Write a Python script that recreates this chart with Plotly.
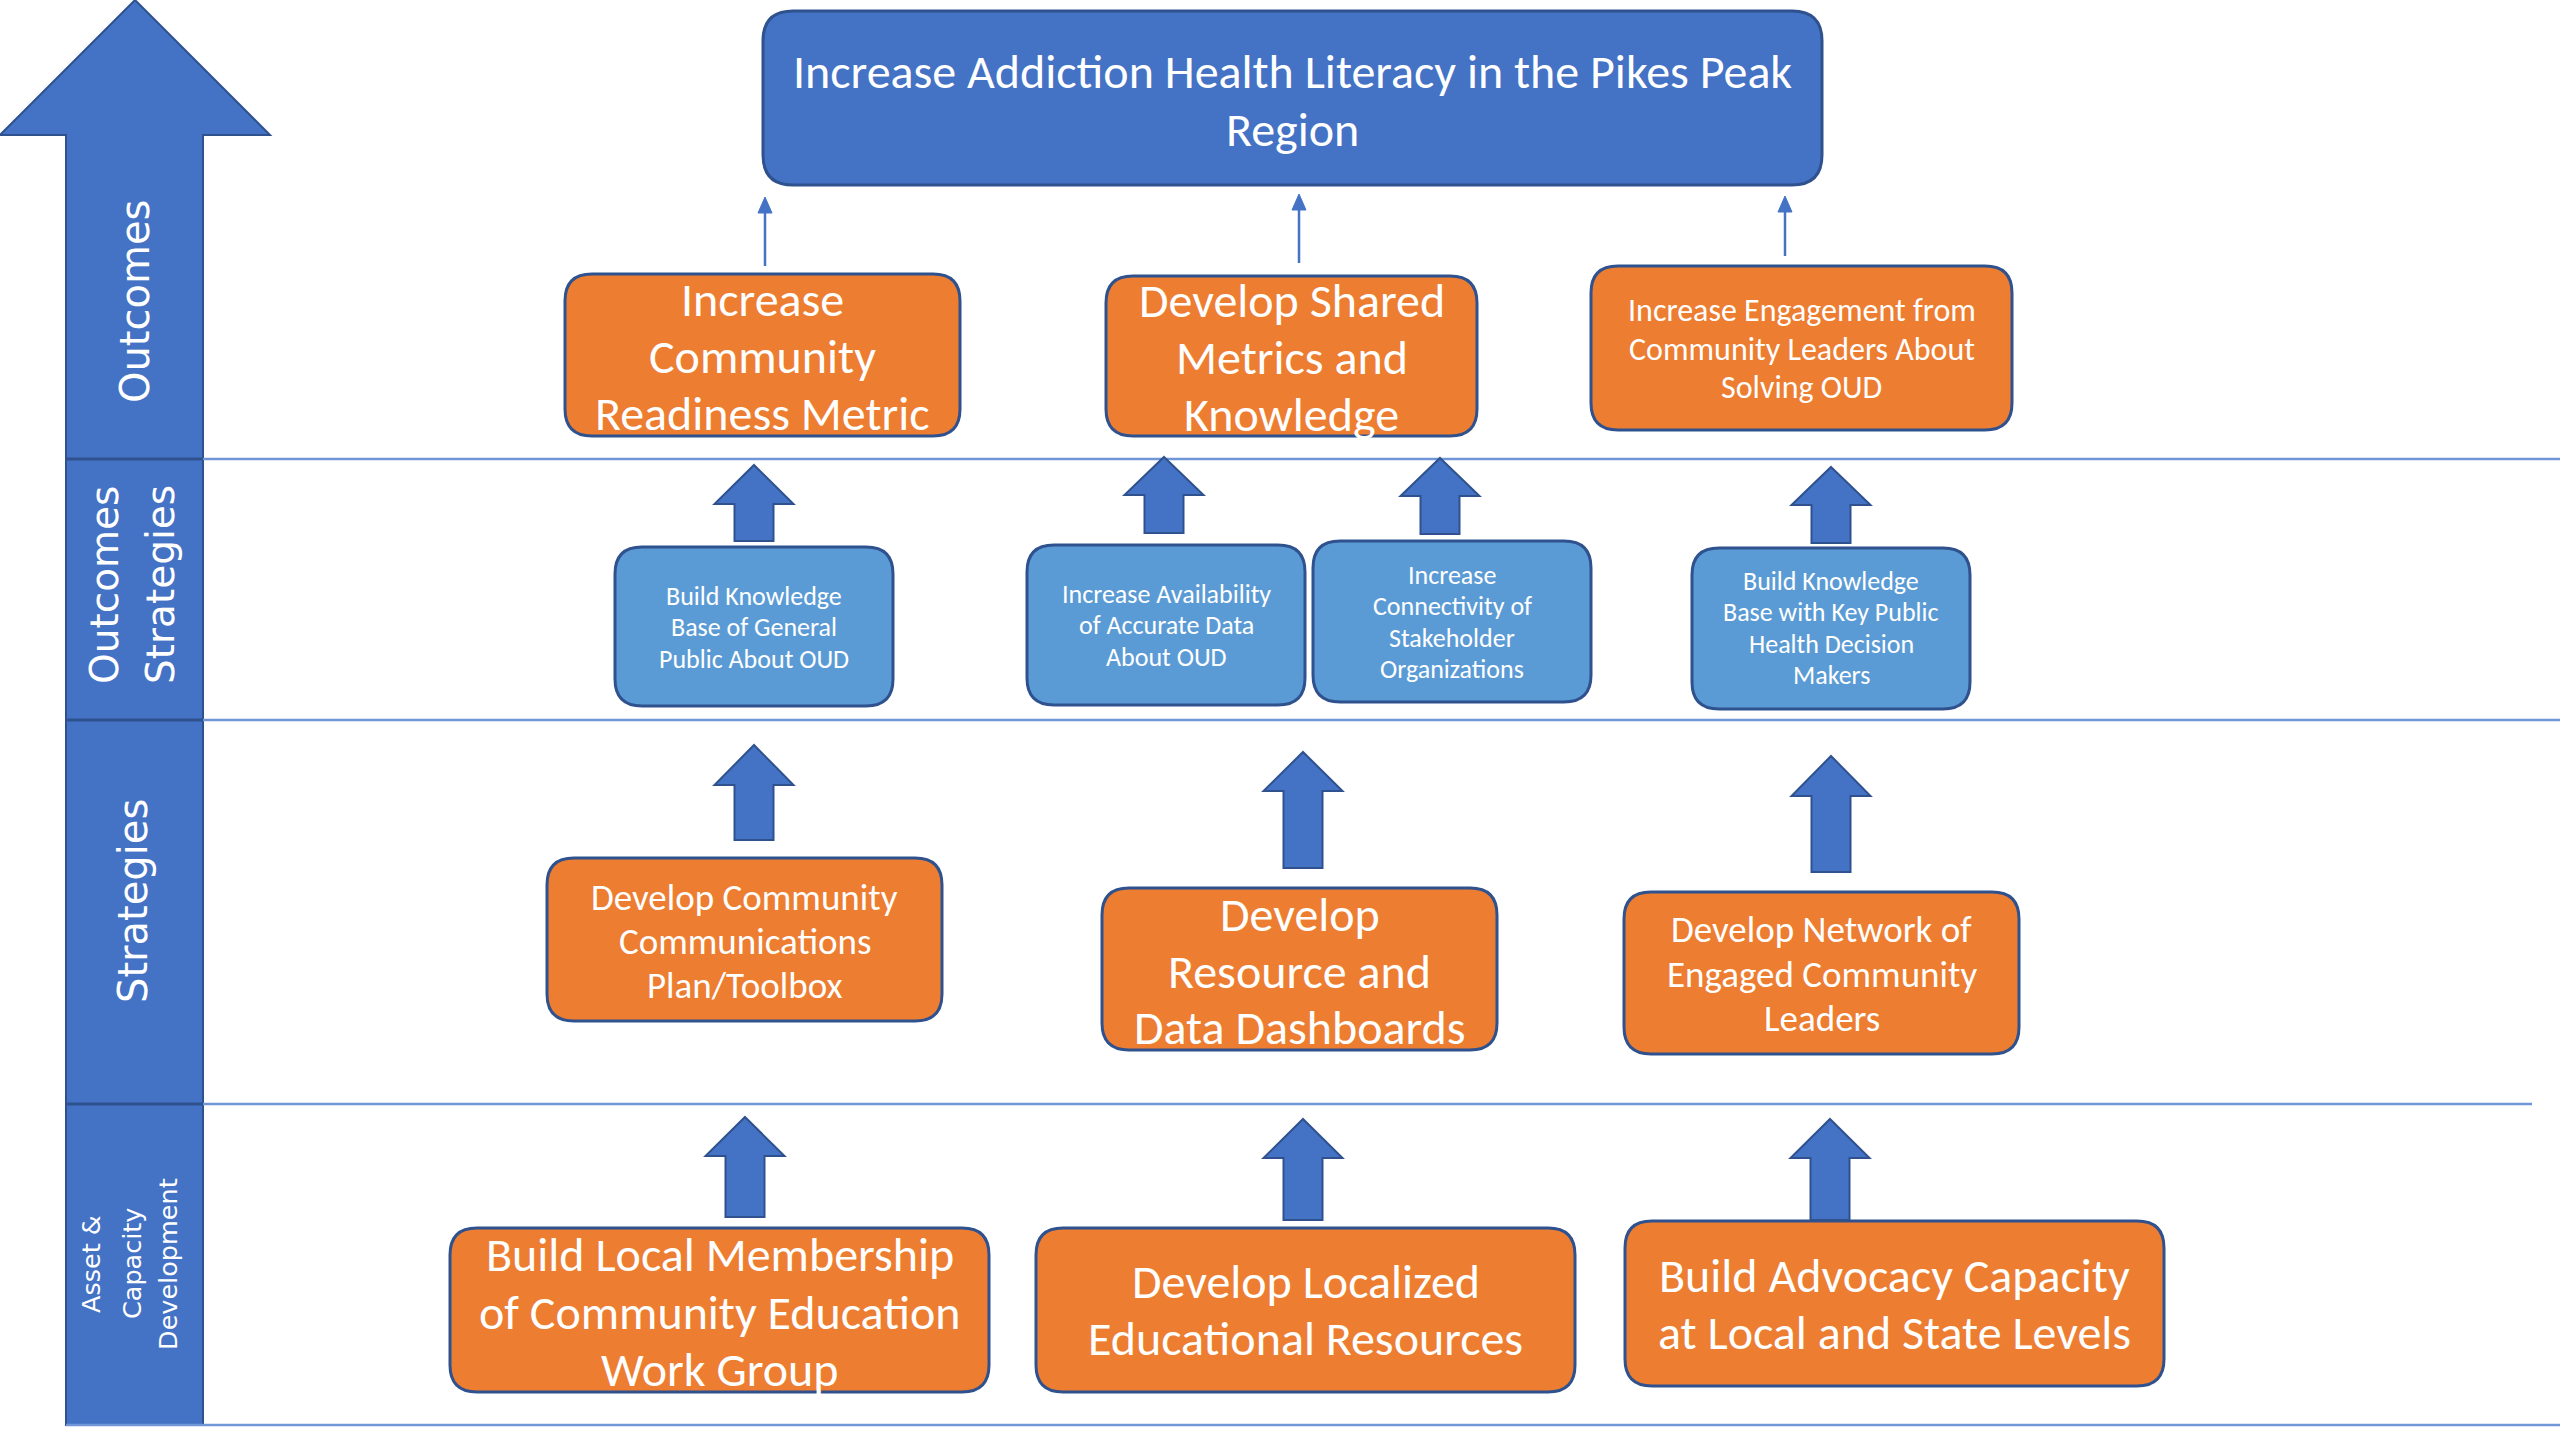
import plotly.graph_objects as go

# ---------------- text content ----------------
stage_labels = [["Outcomes"], ["Outcomes", "Strategies"], ["Strategies"],
                ["Asset &", "Capacity", "Development"]]
goal_text = ["Increase Addiction Health Literacy in the Pikes Peak", "Region"]
outcome_texts = [["Increase", "Community", "Readiness Metric"],
                 ["Develop Shared", "Metrics and", "Knowledge"],
                 ["Increase Engagement from", "Community Leaders About", "Solving OUD"]]
outcome_strategy_texts = [["Build Knowledge", "Base of General", "Public About OUD"],
                          ["Increase Availability", "of Accurate Data", "About OUD"],
                          ["Increase", "Connectivity of", "Stakeholder", "Organizations"],
                          ["Build Knowledge", "Base with Key Public", "Health Decision", "Makers"]]
strategy_texts = [["Develop Community", "Communications", "Plan/Toolbox"],
                  ["Develop", "Resource and", "Data Dashboards"],
                  ["Develop Network of", "Engaged Community", "Leaders"]]
asset_texts = [["Build Local Membership", "of Community Education", "Work Group"],
               ["Develop Localized", "Educational Resources"],
               ["Build Advocacy Capacity", "at Local and State Levels"]]

# ---------------- layout geometry (pixels) ----------------
W, H = 2560, 1440
BLUE, DARK, ORANGE, LIGHT, RULE = "#4472C4", "#2F528F", "#ED7D31", "#5B9BD5", "#7196D8"
BOXFONT = "Carlito, 'Liberation Sans Narrow', 'Open Sans', Lato, sans-serif"
LABFONT = "DejaVu Sans, Verdana, sans-serif"

# (x0, y0, x1, y1, font size, line spacing, text center y)
goal_geom = (763, 11, 1822, 185, 48, 58, 100)
outcome_geom = [(565, 274, 960, 436, 48, 57, 356),
                (1106, 276, 1477, 436, 48, 57, 357),
                (1591, 266, 2012, 430, 32, 38.3, 349)]
ostrat_geom = [(615, 547, 893, 706, 26, 31.5, 627),
               (1027, 545, 1305, 705, 26, 31.5, 625),
               (1313, 541, 1591, 702, 26, 31.5, 622),
               (1692, 548, 1970, 709, 26, 31.5, 628)]
strat_geom = [(547, 858, 942, 1021, 37, 44, 941),
              (1102, 888, 1497, 1050, 48, 56.5, 971),
              (1624, 892, 2019, 1054, 37, 44.5, 974)]
asset_geom = [(450, 1228, 989, 1392, 48, 57.5, 1312),
              (1036, 1228, 1575, 1392, 48, 57, 1310),
              (1625, 1221, 2164, 1386, 48, 57, 1304)]
# block arrows: (center x, tip y, head base y, bottom y)
block_arrows = [(754, 465, 504, 541), (1164, 457, 495, 533), (1440, 458, 496, 534), (1831, 467, 505, 543),
                (754, 745, 785, 840), (1303, 752, 791, 868), (1831, 756, 796, 872),
                (745, 1117, 1156, 1217), (1303, 1119, 1158, 1220), (1830, 1119, 1158, 1220)]
thin_arrows = [(765, 197, 266), (1299, 194, 263), (1785, 196, 256)]
# stage label positions: (list of line x centers, center y, font size)
label_geom = [([135], 302, 40), ([104, 160], 585, 39), ([133], 901, 40), ([91, 132, 168], 1264, 25.5)]
rule_ys = [(459, 203, 2560), (720, 203, 2560), (1104, 203, 2532), (1425, 66, 2560)]

fig = go.Figure()
shapes, annots = [], []


def rrect(x0, y0, x1, y1, r):
    return (f"M{x0+r},{y0} L{x1-r},{y0} Q{x1},{y0} {x1},{y0+r} L{x1},{y1-r} "
            f"Q{x1},{y1} {x1-r},{y1} L{x0+r},{y1} Q{x0},{y1} {x0},{y1-r} "
            f"L{x0},{y0+r} Q{x0},{y0} {x0+r},{y0} Z")


def add_lines(lines, cx, cy, size, spacing, family=BOXFONT, angle=0):
    n = len(lines)
    for i, t in enumerate(lines):
        annots.append(dict(x=cx, y=cy + (i - (n - 1) / 2) * spacing, text=t, showarrow=False,
                           xref="x", yref="y", xanchor="center", yanchor="middle",
                           textangle=angle, font=dict(family=family, size=size, color="white")))


# big left arrow
big = "M135,0 L270,135 L203,135 L203,1425 L66,1425 L66,135 L0,135 Z"
shapes.append(dict(type="path", path=big, fillcolor=BLUE, line=dict(color=DARK, width=2)))
# rules
for y, xa, xb in rule_ys:
    shapes.append(dict(type="line", x0=xa, x1=xb, y0=y, y1=y, line=dict(color=RULE, width=2.5)))
for y in [459, 720, 1104]:
    shapes.append(dict(type="line", x0=66, x1=203, y0=y, y1=y, line=dict(color=DARK, width=3)))

# stage labels
for lab, (xs, cy, fs) in zip(stage_labels, label_geom):
    for t, x in zip(lab, xs):
        annots.append(dict(x=x, y=cy, text=t, showarrow=False, xref="x", yref="y",
                           xanchor="center", yanchor="middle", textangle=-90,
                           font=dict(family=LABFONT, size=fs, color="white")))

# boxes
def add_box(geom, lines, fill, r=27):
    x0, y0, x1, y1, fs, sp, cy = geom
    shapes.append(dict(type="path", path=rrect(x0, y0, x1, y1, r), fillcolor=fill,
                       line=dict(color=DARK, width=3)))
    add_lines(lines, (x0 + x1) / 2, cy, fs, sp)

add_box(goal_geom, goal_text, BLUE, r=30)
for g, t in zip(outcome_geom, outcome_texts):
    add_box(g, t, ORANGE)
for g, t in zip(ostrat_geom, outcome_strategy_texts):
    add_box(g, t, LIGHT)
for g, t in zip(strat_geom, strategy_texts):
    add_box(g, t, ORANGE)
for g, t in zip(asset_geom, asset_texts):
    add_box(g, t, ORANGE)

# block arrows
hw, sw = 39.5, 19.5
for cx, ty, by, bot in block_arrows:
    p = (f"M{cx},{ty} L{cx+hw},{by} L{cx+sw},{by} L{cx+sw},{bot} L{cx-sw},{bot} "
         f"L{cx-sw},{by} L{cx-hw},{by} Z")
    shapes.append(dict(type="path", path=p, fillcolor=BLUE, line=dict(color=DARK, width=2)))

# thin arrows
for x, ty, bot in thin_arrows:
    shapes.append(dict(type="line", x0=x, x1=x, y0=bot, y1=ty + 12, line=dict(color=BLUE, width=2.5)))
    shapes.append(dict(type="path", path=f"M{x},{ty} L{x+7},{ty+16} L{x-7},{ty+16} Z",
                       fillcolor=BLUE, line=dict(color=BLUE, width=1)))

fig.update_layout(
    width=W, height=H, margin=dict(l=0, r=0, t=0, b=0),
    paper_bgcolor="white", plot_bgcolor="white", showlegend=False,
    xaxis=dict(range=[0, W], visible=False, fixedrange=True),
    yaxis=dict(range=[H, 0], visible=False, fixedrange=True),
    shapes=shapes, annotations=annots,
)
fig.write_html("out.html", config={"displayModeBar": False, "staticPlot": True},
               post_script="document.body.style.margin='0';document.body.style.overflow='hidden';")
